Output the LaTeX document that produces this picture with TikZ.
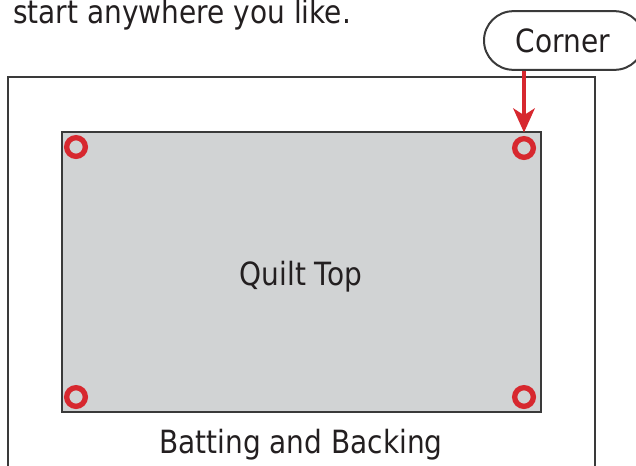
\documentclass[tikz,border=0pt]{standalone}
\usepackage{fontspec}
\setmainfont{DejaVu Sans}[FakeStretch=0.875]
\usepackage{xcolor}
\usepackage{tikz}
\usetikzlibrary{positioning,arrows.meta}
\definecolor{quiltgrey}{HTML}{D1D3D4}
\definecolor{quiltline}{HTML}{3A3A3A}
\definecolor{quiltred}{HTML}{D7282F}
\definecolor{quilttext}{HTML}{231F20}

\begin{document}
\begin{tikzpicture}[
  x=0.75pt,y=-0.75pt,
  lbl/.style={font=\fontsize{24}{28}\selectfont,text=quilttext,inner sep=0pt},
  pin/.style={circle,draw=quiltred,line width=4pt,minimum size=14pt,inner sep=0pt},
  callout/.style={draw=quiltline,line width=1.5pt,fill=white,rounded corners=22pt,minimum width=120pt,minimum height=44pt,inner sep=0pt}
]
\useasboundingbox (0,0) rectangle (636,465);
\clip (0,0) rectangle (636,465);
\node[lbl,anchor=base west] (hint) at (13,23) {start anywhere you like.};
\draw[draw=quiltline,line width=1.7pt] (8,77) rectangle (595,480);
\draw[draw=quiltline,line width=1.9pt,fill=quiltgrey] (62,132) rectangle (541,412);
\node[lbl,anchor=base] (top) at (301,285) {Quilt Top};
\node[lbl,anchor=base] (batting) at (301,453) {Batting and Backing};
\node[pin] (nw) at (76,147) {};
\node[pin] (ne) at (524,148) {};
\node[pin] (sw) at (76,397) {};
\node[pin] (se) at (524,397) {};
\node[callout] (corner) at (564,40.5) {};
\node[lbl,anchor=base] (cornertext) at (563,52) {Corner};
\coordinate (tip) at (524,132.5);
\draw[quiltred,line width=3.6pt,-{Stealth[length=18pt,width=16pt,inset=5pt]}] (corner.south -| tip) -- (tip);
\end{tikzpicture}
\end{document}
